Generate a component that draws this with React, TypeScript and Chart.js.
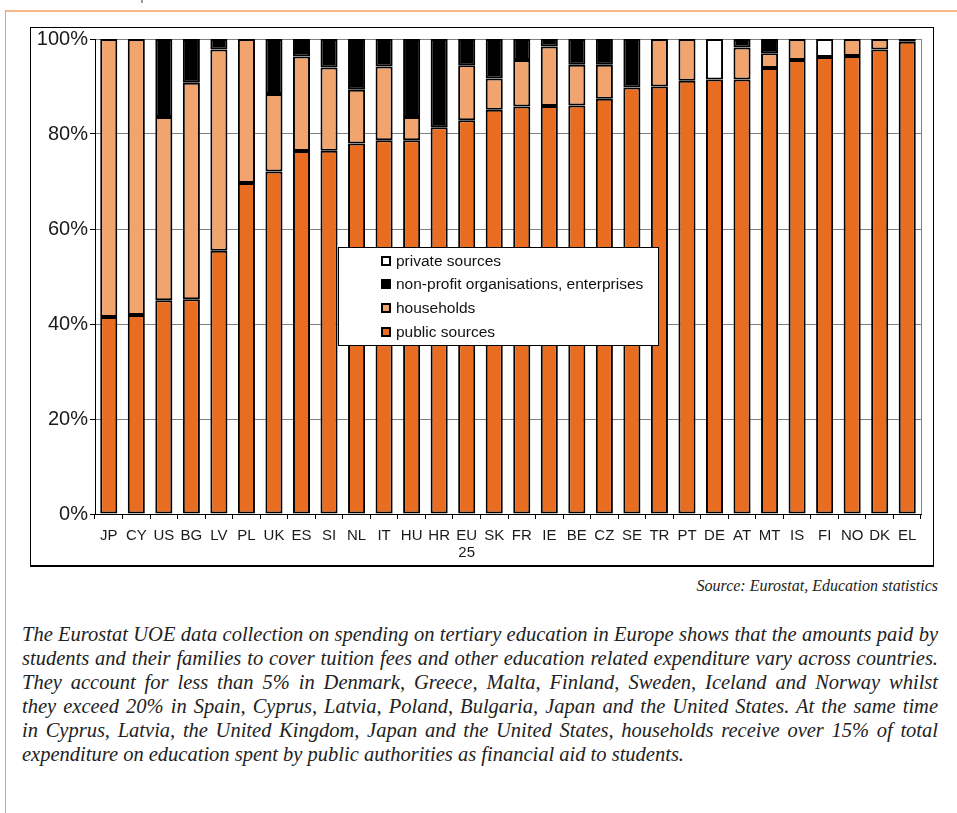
import React, { useEffect, useRef } from "react";
import { Chart, registerables } from "chart.js";

Chart.register(...registerables);

const categories: (string | string[])[] = [
  "JP", "CY", "US", "BG", "LV", "PL", "UK", "ES", "SI", "NL", "IT", "HU", "HR", ["EU", "25"],
  "SK", "FR", "IE", "BE", "CZ", "SE", "TR", "PT", "DE", "AT", "MT", "IS", "FI", "NO", "DK", "EL",
];

const publicSources = [
  41.5, 41.9, 45.0, 45.2, 55.4, 69.7, 72.1, 76.4, 76.5, 78.0, 78.7, 78.7, 81.4, 82.9,
  85.1, 85.8, 85.9, 86.0, 87.4, 89.8, 90.0, 91.2, 91.5, 91.5, 93.9, 95.6, 96.2, 96.4, 97.8, 99.4,
];
const households = [
  58.5, 58.1, 38.6, 45.6, 42.4, 30.3, 16.3, 19.9, 17.5, 11.3, 15.5, 4.9, null, 11.6,
  6.6, 9.8, 12.5, 8.6, 7.2, null, 10.0, 8.8, null, 6.7, 3.1, 4.4, null, 3.6, 2.2, null,
];
const nonProfit = [
  null, null, 16.4, 9.2, 2.2, null, 11.6, 3.7, 6.0, 10.7, 5.8, 16.4, 18.6, 5.5,
  8.3, 4.4, 1.6, 5.4, 5.4, 10.2, null, null, null, 1.8, 3.0, null, null, null, null, 0.6,
];
const privateSources = [
  null, null, null, null, null, null, null, null, null, null, null, null, null, null,
  null, null, null, null, null, null, null, null, 8.5, null, null, null, 3.8, null, null, null,
];

const yTicks = [0, 20, 40, 60, 80, 100];

const seriesLabels = [
  "public sources",
  "households",
  "non-profit organisations, enterprises",
  "private sources",
];
const seriesColors = ["#E96D20", "#F2A46F", "#000000", "#FFFFFF"];

const paragraphLines = [
  "The Eurostat UOE data collection on spending on tertiary education in Europe shows that the amounts paid by",
  "students and their families to cover tuition fees and other education related expenditure vary across countries.",
  "They account for less than 5% in Denmark, Greece, Malta, Finland, Sweden, Iceland and Norway whilst",
  "they exceed 20% in Spain, Cyprus, Latvia, Poland, Bulgaria, Japan and the United States. At the same time",
  "in Cyprus, Latvia, the United Kingdom, Japan and the United States, households receive over 15% of total",
  "expenditure on education spent by public authorities as financial aid to students.",
];

const insideLegend = {
  id: "insideLegend",
  afterDraw(chart: any) {
    const { ctx, chartArea } = chart;
    const bx = chartArea.left + 243;
    const by = chartArea.top + 208;
    const bw = 320;
    const bh = 98;
    ctx.save();
    ctx.fillStyle = "#FFFFFF";
    ctx.fillRect(bx, by, bw, bh);
    ctx.strokeStyle = "#000000";
    ctx.lineWidth = 1;
    ctx.strokeRect(bx + 0.5, by + 0.5, bw, bh);
    const rows = [14, 37, 61, 85];
    const ds = chart.data.datasets;
    const order = [3, 2, 1, 0];
    ctx.font = "15.5px 'Liberation Sans', Arial, sans-serif";
    ctx.textBaseline = "middle";
    order.forEach((di, i) => {
      const cy = by + rows[i];
      ctx.fillStyle = "#000000";
      ctx.fillRect(bx + 43, cy - 5, 10, 10);
      ctx.fillStyle = ds[di].backgroundColor;
      ctx.fillRect(bx + 45, cy - 3, 6, 6);
      ctx.fillStyle = "#111111";
      ctx.fillText(ds[di].label, bx + 58, cy + 0.5);
    });
    // right border of plot
    ctx.strokeStyle = "#808080";
    ctx.beginPath();
    ctx.moveTo(chartArea.right + 0.5, chartArea.top);
    ctx.lineTo(chartArea.right + 0.5, chartArea.bottom);
    ctx.stroke();
    ctx.restore();
  },
};

export default function App() {
  const canvasRef = useRef<HTMLCanvasElement | null>(null);

  useEffect(() => {
    if (!canvasRef.current) return;
    const data = [publicSources, households, nonProfit, privateSources];
    const chart = new Chart(canvasRef.current, {
      type: "bar",
      data: {
        labels: categories as any,
        datasets: data.map((d, i) => ({
          label: seriesLabels[i],
          data: d as any,
          backgroundColor: seriesColors[i],
          borderColor: "#000000",
          borderWidth: 2,
          borderSkipped: false as any,
          categoryPercentage: 1,
          barPercentage: 0.62,
        })),
      },
      options: {
        animation: false,
        responsive: true,
        maintainAspectRatio: false,
        layout: { padding: { top: 11, right: 12, left: 0, bottom: 0 } },
        plugins: {
          legend: { display: false },
          tooltip: { enabled: false },
        },
        scales: {
          x: {
            stacked: true,
            offset: true,
            grid: {
              display: true,
              offset: true,
              drawOnChartArea: false,
              tickLength: 5,
              color: "#000000",
            },
            border: { display: true, color: "#000000", width: 1 },
            ticks: {
              color: "#1a1a1a",
              padding: 9,
              maxRotation: 0,
              autoSkip: false,
              font: { family: "'Liberation Sans Narrow', 'Liberation Sans', Arial, sans-serif", size: 15, lineHeight: 1.1 },
            },
            afterFit: (s: any) => {
              s.height = 51;
              s.paddingLeft = 0;
              s.paddingRight = 0;
            },
          },
          y: {
            stacked: true,
            min: 0,
            max: 100,
            afterBuildTicks: (s: any) => {
              s.ticks = yTicks.map((v) => ({ value: v }));
            },
            grid: {
              color: "#808080",
              lineWidth: 1,
              tickLength: 5,
              tickColor: "#000000",
            },
            border: { display: true, color: "#000000", width: 1 },
            ticks: {
              color: "#1a1a1a",
              padding: 2,
              font: { family: "'Liberation Sans', Arial, sans-serif", size: 20 },
              callback: (v: any) => v + "%",
            },
            afterFit: (s: any) => {
              s.width = 64;
              s.paddingTop = 0;
              s.paddingBottom = 0;
            },
          },
        },
      },
      plugins: [insideLegend],
    });
    return () => chart.destroy();
  }, []);

  return (
    <div style={{ position: "absolute", left: 0, top: 0, width: 957, height: 813, background: "#FFFFFF", overflow: "hidden" }}>
      <div style={{ position: "absolute", left: 5, top: 10, width: 952, height: 2, background: "#F7B88B" }} />
      <div style={{ position: "absolute", left: 5, top: 10, width: 1, height: 803, background: "#F2A06A" }} />
      <div style={{ position: "absolute", left: 141, top: 0, width: 2, height: 3, background: "#999999" }} />
      <div
        style={{
          position: "absolute",
          left: 30,
          top: 27,
          width: 902,
          height: 537,
          border: "1px solid #000000",
          borderBottomWidth: 2,
          background: "#FFFFFF",
        }}
      >
        <canvas ref={canvasRef} />
      </div>
      <div
        style={{
          position: "absolute",
          right: 19,
          top: 577,
          fontFamily: "'Liberation Serif', 'Times New Roman', serif",
          fontStyle: "italic",
          fontSize: 16,
          color: "#222222",
          whiteSpace: "nowrap",
        }}
      >
        Source: Eurostat, Education statistics
      </div>
      <div
        style={{
          position: "absolute",
          left: 22,
          top: 622,
          width: 916,
          fontFamily: "'Liberation Serif', 'Times New Roman', serif",
          fontStyle: "italic",
          fontSize: 20.5,
          lineHeight: "24px",
          color: "#222222",
        }}
      >
        {paragraphLines.map((line, i) => (
          <div
            key={i}
            style={{
              textAlign: i === paragraphLines.length - 1 ? "left" : "justify",
              textAlignLast: i === paragraphLines.length - 1 ? "left" : "justify",
              whiteSpace: "nowrap",
            }}
          >
            {line}
          </div>
        ))}
      </div>
    </div>
  );
}
